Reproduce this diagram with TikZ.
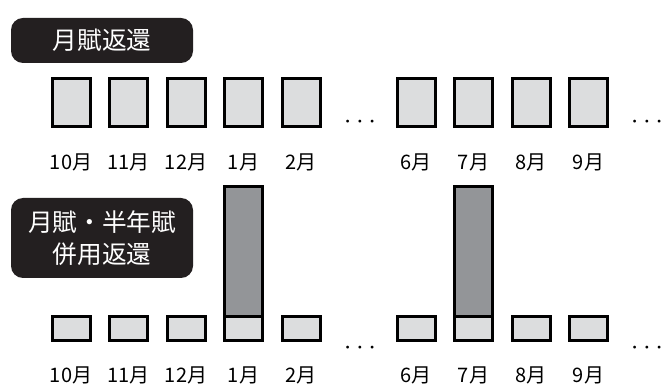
\documentclass[tikz,border=0pt]{standalone}
\usepackage{fontspec}
\setmainfont{Noto Sans CJK JP}
\usetikzlibrary{positioning}

\definecolor{lightbox}{HTML}{DCDDDE}
\definecolor{darkbox}{HTML}{939598}
\definecolor{tagfill}{HTML}{231F20}

\tikzset{
  month/.style={draw=black, line width=2.25pt, fill=lightbox, inner sep=0pt, outer sep=0pt},
  bonus/.style={draw=black, line width=2.25pt, fill=darkbox, inner sep=0pt, outer sep=0pt},
  tag/.style={fill=tagfill, rounded corners=9pt, text=white, inner sep=0pt,
    font=\fontsize{18.5}{24}\selectfont, align=center},
  mlabel/.style={font=\fontsize{15}{16}\selectfont},
  dots/.style={font=\fontsize{20}{20}\selectfont, anchor=base}
}

\begin{document}
\begin{tikzpicture}[x=0.75pt,y=-0.75pt]
    \useasboundingbox (0,0) rectangle (670,391);

		% labels on the left
		\node[tag, minimum width=136.5pt, minimum height=33.75pt] (top) at (102,40.5) {月賦返還};
		\node[tag, minimum width=136.5pt, minimum height=60pt] (low) at (102,238) {月賦・半年賦\\併用返還};

		% monthly payments only
		\foreach \i/\m in {0/10,1/11,2/12,3/1,4/2,6/6,7/7,8/8,9/9}
		{
			\node[month, minimum width=28.5pt, minimum height=36pt] (a\i) at (71+57.5*\i,102.5) {};
			\node[mlabel] (la\i) at (71+57.5*\i,162) {\m 月};
		}
		\node[dots] (da) at (360,129) {$\cdots$};
		\node[dots] (db) at (647,129) {$\cdots$};

		% monthly and half-yearly payments
		\foreach \i/\m in {0/10,1/11,2/12,3/1,4/2,6/6,7/7,8/8,9/9}
		{
			\node[month, minimum width=28.5pt, minimum height=18pt] (b\i) at (71+57.5*\i,328.5) {};
			\node[mlabel] (lb\i) at (71+57.5*\i,375) {\m 月};
		}
		\foreach \i in {3,7}
			\node[bonus, minimum width=28.5pt, minimum height=97.5pt, anchor=south] (h\i) at (b\i.north) {};
		\node[dots] (dc) at (360,354) {$\cdots$};
		\node[dots] (dd) at (647,354) {$\cdots$};

\end{tikzpicture}
\end{document}
